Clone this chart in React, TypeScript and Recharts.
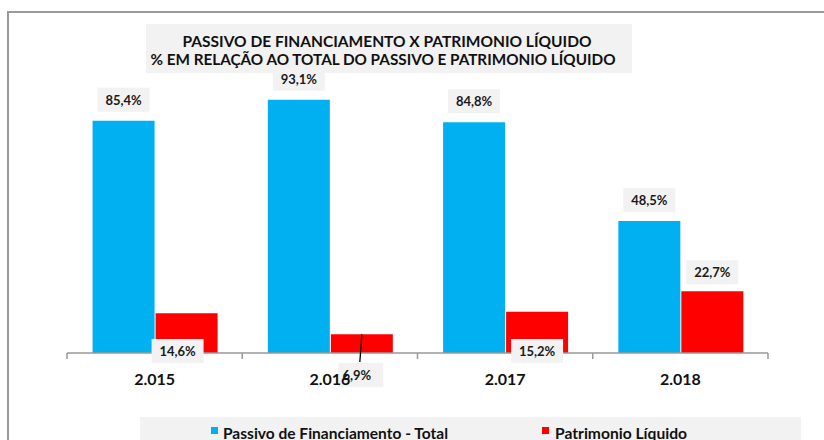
import React from 'react';
import { BarChart, Bar, XAxis, YAxis, LabelList, ReferenceLine } from 'recharts';

const categories = ['2.015', '2.016', '2.017', '2.018'];
const passivoFinanciamento = [85.4, 93.1, 84.8, 48.5];
const patrimonioLiquido = [14.6, 6.9, 15.2, 22.7];
const titleLines = [
  'PASSIVO DE FINANCIAMENTO X PATRIMONIO LÍQUIDO',
  '% EM RELAÇÃO AO TOTAL DO PASSIVO E PATRIMONIO LÍQUIDO',
];
const seriesNames = ['Passivo de Financiamento - Total', 'Patrimonio Líquido'];

const data = categories.map((c, i) => ({
  year: c,
  passivo: passivoFinanciamento[i],
  pl: patrimonioLiquido[i],
}));

const W = 824;
const H = 440;
const PLOT_LEFT = 67;
const PLOT_RIGHT = 768;
const HALF_BAND = (PLOT_RIGHT - PLOT_LEFT) / categories.length / 2;
const FONT = 'Lato, "Open Sans", sans-serif';
const BLUE = '#00B0F0';
const RED = '#FF0000';
const LABEL_BG = '#F2F2F2';

const fmt = (v: number) => v.toFixed(1).replace('.', ',') + '%';

// label placement style for red series (Excel manual label placement)
const redPlacement: Array<'base' | 'leader' | 'top'> = ['base', 'leader', 'base', 'top'];
const redShift = [-9, 0, 0, 0];

const LabelBox = ({ cx, cy, text, w = 52, h = 24, textDx = 0 }: any) => (
  <g>
    <rect x={cx - w / 2} y={cy - h / 2} width={w} height={h} fill={LABEL_BG} />
    <text
      x={cx + textDx}
      y={cy}
      textAnchor="middle"
      dominantBaseline="central"
      fontFamily={FONT}
      fontWeight={700}
      fontSize={13}
      fill="#1a1a1a"
    >
      {text}
    </text>
  </g>
);

const BlueLabel = (props: any) => {
  const { x, y, width, value } = props;
  return <LabelBox cx={x + width / 2} cy={y - 21} text={fmt(value)} />;
};

const RedLabel = (props: any) => {
  const { x, y, width, height, value, index } = props;
  const cx = x + width / 2 + redShift[index];
  const mode = redPlacement[index];
  if (mode === 'top') {
    return <LabelBox cx={cx} cy={y - 19} text={fmt(value)} />;
  }
  if (mode === 'leader') {
    const base = y + height;
    return (
      <g>
        <line x1={cx} y1={y} x2={cx - 2} y2={base + 9} stroke="#000" strokeWidth={1.3} />
        <LabelBox cx={cx - 1} cy={base + 22} w={45} textDx={-4} text={fmt(value)} />
      </g>
    );
  }
  return <LabelBox cx={cx} cy={y + height - 2} text={fmt(value)} />;
};

const Tick = (props: any) => {
  const { x, y, payload, index } = props;
  return (
    <g>
      <line x1={x - HALF_BAND} y1={y} x2={x - HALF_BAND} y2={y + 6} stroke="#999" strokeWidth={1.5} />
      {index === categories.length - 1 && (
        <line x1={x + HALF_BAND} y1={y} x2={x + HALF_BAND} y2={y + 6} stroke="#999" strokeWidth={1.5} />
      )}
      <text
        x={x}
        y={y + 25}
        textAnchor="middle"
        dominantBaseline="central"
        fontFamily={FONT}
        fontWeight={700}
        fontSize={16}
        fill="#111"
      >
        {payload.value}
      </text>
    </g>
  );
};

export default function App() {
  const xAxisProps: any = { zIndex: 3000 };
  const baseProps: any = { zIndex: 350 };
  return (
    <div style={{ position: 'absolute', left: 0, top: 0, width: W, height: H, overflow: 'hidden', background: '#fff' }}>
      <div
        style={{
          position: 'absolute',
          left: 7,
          top: 11,
          width: 900,
          height: 600,
          borderTop: '2px solid #9a9a9a',
          borderLeft: '2px solid #9a9a9a',
        }}
      />
      <div style={{ position: 'absolute', left: 0, top: 0 }}>
        <BarChart
          width={W}
          height={H}
          data={data}
          margin={{ top: 81, right: W - PLOT_RIGHT, left: PLOT_LEFT, bottom: 57 }}
          barCategoryGap="14.6%"
          barGap={1}
        >
          <YAxis hide width={0} domain={[0, 100]} />
          <ReferenceLine y={0} stroke="#999" strokeWidth={1.5} {...baseProps} />
          <Bar dataKey="passivo" fill={BLUE} isAnimationActive={false}>
            <LabelList dataKey="passivo" content={<BlueLabel />} />
          </Bar>
          <Bar dataKey="pl" fill={RED} isAnimationActive={false}>
            <LabelList dataKey="pl" content={<RedLabel />} />
          </Bar>
          <XAxis
            dataKey="year"
            height={30}
            axisLine={false}
            tickLine={false}
            tickSize={0}
            tickMargin={0}
            tick={<Tick />}
            interval={0}
            {...xAxisProps}
          />
        </BarChart>
      </div>
      <svg width={W} height={H} style={{ position: 'absolute', left: 0, top: 0, pointerEvents: 'none' }}>
        <rect x={146} y={24} width={486} height={49} fill={LABEL_BG} />
        <text x={387} y={41} textAnchor="middle" dominantBaseline="central" fontFamily={FONT} fontWeight={700} fontSize={15} fill="#111" textLength={409} lengthAdjust="spacingAndGlyphs">
          {titleLines[0]}
        </text>
        <text x={383} y={59} textAnchor="middle" dominantBaseline="central" fontFamily={FONT} fontWeight={700} fontSize={15} fill="#111" textLength={465} lengthAdjust="spacingAndGlyphs">
          {titleLines[1]}
        </text>
        <rect x={140} y={417} width={661} height={30} fill={LABEL_BG} />
        <rect x={211} y={427} width={7} height={7} fill={BLUE} />
        <text x={223} y={432} dominantBaseline="central" fontFamily={FONT} fontWeight={700} fontSize={16} fill="#111" textLength={225} lengthAdjust="spacingAndGlyphs">
          {seriesNames[0]}
        </text>
        <rect x={542} y={427} width={7} height={7} fill={RED} />
        <text x={555} y={432} dominantBaseline="central" fontFamily={FONT} fontWeight={700} fontSize={16} fill="#111" textLength={132} lengthAdjust="spacingAndGlyphs">
          {seriesNames[1]}
        </text>
      </svg>
    </div>
  );
}
